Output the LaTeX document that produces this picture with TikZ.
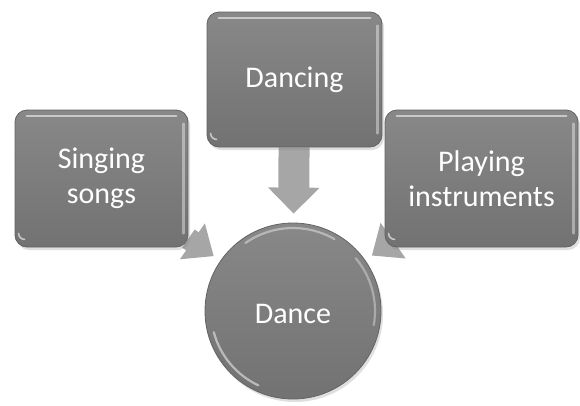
\documentclass[tikz,border=0pt]{standalone}
\usepackage{fontspec}
\setmainfont{Carlito}
\usetikzlibrary{arrows.meta,shadows,backgrounds,calc}
\definecolor{boxtop}{HTML}{888888}
\definecolor{boxbot}{HTML}{727272}
\definecolor{boxedge}{HTML}{636363}
\definecolor{arrowgray}{HTML}{A6A6A6}
\begin{document}
\begin{tikzpicture}[x=1pt,y=-1pt,
  label text/.style={text=white, align=center, font=\fontsize{30}{35}\selectfont},
  glossy/.style={draw=boxedge, line width=0.8pt, top color=boxtop, bottom color=boxbot,
    drop shadow={opacity=0.25, shadow xshift=2pt, shadow yshift=-3pt}},
  box/.style={glossy, label text, rounded corners=12pt, inner sep=0pt},
  hub/.style={glossy, label text, circle, inner sep=0pt, minimum size=176pt},
  shine/.style={draw=white, opacity=0.55, line width=2.2pt, line cap=round},
  blockarrow/.style={draw=arrowgray, line width=#1},
]
\useasboundingbox (0,0) rectangle (580,405);

% the three activity boxes and the central circle
\node[box, minimum width=173pt, minimum height=137pt] (sing) at (101.5,178.5) {Singing\\songs};
\node[box, minimum width=175pt, minimum height=135pt] (dancing) at (294.5,79.5) {Dancing};
\node[box, minimum width=193pt, minimum height=137pt] (play) at (481.5,178.5) {Playing\\instruments};
\node[hub] (dance) at (293,311) {};
\node[label text] (dancetxt) at (293,314) {Dance};

% glossy rims
\foreach \b in {sing,dancing,play}{
  \draw[shine] ($(\b.north west)+(12,6)$) -- ($(\b.north east)+(-12,6)$);
  \draw[shine, opacity=0.4] ($(\b.north east)+(-5,14)$) -- ($(\b.south east)+(-5,-14)$);
  \draw[shine, opacity=0.6, line width=1.6pt] ($(\b.south west)+(4,-14)$) arc (180:90:6);
}
% y grows downwards here, so 110..160 is the lower-left rim
\draw[shine, opacity=0.5] (dance.center) ++(115:82) arc (115:165:82);
\draw[shine, opacity=0.4] (dance.center) ++(-125:83) arc (-125:-60:83);
\draw[shine, opacity=0.35] (dance.center) ++(-40:82) arc (-40:10:82);

% block arrows pointing into the circle
\begin{scope}[on background layer]
  \draw[blockarrow=31pt, -{Triangle[length=26pt, width=50pt]}, shorten >=9pt] (dancing) -- (dance);
  \draw[blockarrow=22pt, -{Triangle[length=26pt, width=42pt]}, shorten >=8pt] (sing) -- (dance);
  \draw[blockarrow=22pt, -{Triangle[length=26pt, width=42pt]}, shorten >=8pt] (play) -- (dance);
\end{scope}
\end{tikzpicture}
\end{document}
